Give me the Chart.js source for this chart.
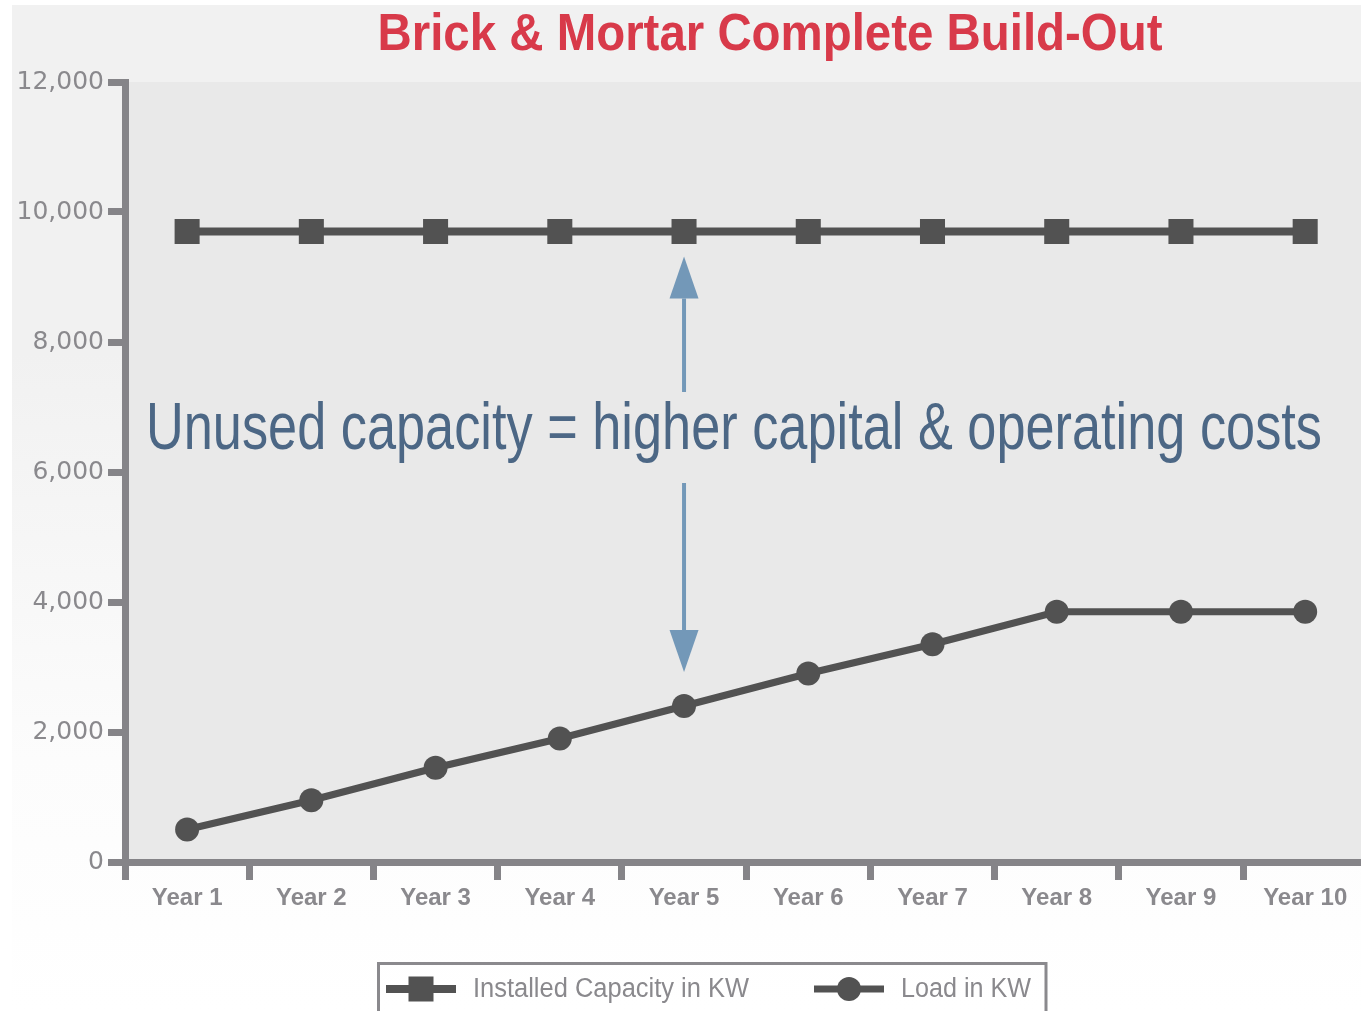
<!DOCTYPE html>
<html>
<head>
<meta charset="utf-8">
<script src="https://cdn.jsdelivr.net/npm/chart.js@4.4.1/dist/chart.umd.min.js"></script>
<style>
  html, body { margin: 0; padding: 0; overflow: hidden; background: #fff; }
  #wrap { position: absolute; left: 0; top: 0; width: 1385px; height: 1011px; }
</style>
</head>
<body>
<div id="wrap"><canvas id="myChart" width="1385" height="1011"></canvas></div>
<script>
var years = ["Year 1", "Year 2", "Year 3", "Year 4", "Year 5", "Year 6", "Year 7", "Year 8", "Year 9", "Year 10"];
var installedCapacity = [9700, 9700, 9700, 9700, 9700, 9700, 9700, 9700, 9700, 9700];
var loadKW = [500, 950, 1450, 1900, 2400, 2900, 3350, 3850, 3850, 3850];
var yMin = 0;
var yMax = 12000;
var yStep = 2000;

var titleText = "Brick & Mortar Complete Build-Out";
var noteText = "Unused capacity = higher capital & operating costs";

var axisGrey = "#858488";
var labelGrey = "#8a898d";
var lineGrey = "#525252";
var arrowBlue = "#7398b8";
var sans = '"Liberation Sans", Arial, sans-serif';

// Hintergrund: weisser Rand, graues Feld mit Verlauf, Plotfläche etwas dunkler
var hintergrund = {
  id: "hintergrund",
  beforeDraw: function (chart) {
    var ctx = chart.ctx;
    var a = chart.chartArea;
    ctx.save();
    ctx.fillStyle = "#ffffff";
    ctx.fillRect(0, 0, chart.width, chart.height);
    var g = ctx.createLinearGradient(0, 0, 0, chart.height);
    g.addColorStop(0, "#f1f1f1");
    g.addColorStop(0.35, "#f1f1f1");
    g.addColorStop(0.75, "#fcfcfc");
    g.addColorStop(1, "#ffffff");
    ctx.fillStyle = g;
    ctx.fillRect(12, 5, chart.width - 12, chart.height - 5);
    ctx.fillStyle = "#e9e9e9";
    ctx.fillRect(a.left, a.top, chart.width - a.left, a.bottom - a.top);
    ctx.restore();
  }
};

// schmale Schrift nachbilden: Text horizontal auf Zielbreite stauchen
function schmalText(ctx, text, x, y, breite) {
  var w = ctx.measureText(text).width;
  ctx.save();
  ctx.translate(x, y);
  ctx.scale(breite / w, 1);
  ctx.fillText(text, 0, 0);
  ctx.restore();
}

function pfeil(ctx, x, yFrom, yTip) {
  var dir = yTip > yFrom ? 1 : -1;
  var headLen = 42;
  var headHalf = 14.5;
  ctx.beginPath();
  ctx.moveTo(x, yFrom);
  ctx.lineTo(x, yTip - dir * headLen);
  ctx.stroke();
  ctx.beginPath();
  ctx.moveTo(x, yTip);
  ctx.lineTo(x - headHalf, yTip - dir * headLen);
  ctx.lineTo(x + headHalf, yTip - dir * headLen);
  ctx.closePath();
  ctx.fill();
}

function symbol(ctx, ds, x, y) {
  ctx.strokeStyle = ds.borderColor;
  ctx.lineWidth = ds.borderWidth;
  ctx.beginPath();
  ctx.moveTo(x, y);
  ctx.lineTo(x + 70, y);
  ctx.stroke();
  ctx.fillStyle = ds.pointBackgroundColor;
  var cx = x + 35;
  if (ds.pointStyle === "rect") {
    ctx.fillRect(cx - 12.5, y - 12.5, 25, 25);
  } else {
    ctx.beginPath();
    ctx.arc(cx, y, 12, 0, Math.PI * 2);
    ctx.fill();
  }
}

// Titel, Hinweistext mit Pfeilen und Legende
var beschriftung = {
  id: "beschriftung",
  afterDraw: function (chart) {
    var ctx = chart.ctx;
    var xs = chart.scales.x;
    var ys = chart.scales.y;
    ctx.save();

    ctx.fillStyle = "#d83a4a";
    ctx.font = "bold 52px " + sans;
    ctx.textAlign = "center";
    ctx.textBaseline = "alphabetic";
    schmalText(ctx, titleText, 770, 50, 785);

    ctx.fillStyle = "#4c6785";
    ctx.font = "66px " + sans;
    schmalText(ctx, noteText, 734, 449, 1176);

    var ax = xs.getPixelForValue(4);
    var yCap = ys.getPixelForValue(installedCapacity[4]);
    var yLoad = ys.getPixelForValue(loadKW[4]);
    ctx.strokeStyle = arrowBlue;
    ctx.fillStyle = arrowBlue;
    ctx.lineWidth = 4;
    pfeil(ctx, ax, 392, yCap + 25);
    pfeil(ctx, ax, 483, yLoad - 34);

    // Legende
    var ds = chart.data.datasets;
    var textBreite = [276, 130];
    ctx.font = "27px " + sans;
    ctx.textAlign = "left";
    ctx.textBaseline = "middle";
    var x = 386;
    var ly = 989;
    for (var i = 0; i < ds.length; i++) {
      symbol(ctx, ds[i], x, ly);
      ctx.fillStyle = labelGrey;
      schmalText(ctx, ds[i].label, x + 87, ly + 1, textBreite[i]);
      x += 87 + textBreite[i] + 65;
    }
    var boxRight = x - 65 + 15;
    ctx.strokeStyle = labelGrey;
    ctx.lineWidth = 3;
    ctx.strokeRect(378.5, 963.5, boxRight - 378.5, 80);
    ctx.restore();
  }
};

new Chart("myChart", {
  type: "line",
  data: {
    labels: years,
    datasets: [
      {
        label: "Installed Capacity in KW",
        data: installedCapacity,
        borderColor: lineGrey,
        backgroundColor: lineGrey,
        pointBackgroundColor: lineGrey,
        borderWidth: 8,
        pointStyle: "rect",
        pointRadius: 17.7,
        pointBorderWidth: 0,
        tension: 0,
      },
      {
        label: "Load in KW",
        data: loadKW,
        borderColor: lineGrey,
        backgroundColor: lineGrey,
        pointBackgroundColor: lineGrey,
        borderWidth: 7,
        pointStyle: "circle",
        pointRadius: 12,
        pointBorderWidth: 0,
        tension: 0,
      },
    ],
  },
  plugins: [hintergrund, beschriftung],
  options: {
    responsive: false,
    animation: false,
    layout: { padding: { top: 82, right: 1, bottom: 0, left: 0 } },
    plugins: {
      legend: { display: false },
      title: { display: false },
      tooltip: { enabled: false },
    },
    scales: {
      x: {
        offset: true,
        afterFit: function (s) {
          s.height = 149;
          s.paddingLeft = 0;
          s.paddingRight = 0;
        },
        grid: {
          offset: true,
          drawOnChartArea: false,
          drawTicks: true,
          tickLength: 18,
          tickWidth: 7,
          tickColor: axisGrey,
        },
        border: { display: true, width: 7, color: axisGrey },
        ticks: {
          color: labelGrey,
          padding: 4,
          font: { family: "Liberation Sans", size: 24, weight: "bold" },
        },
      },
      y: {
        min: yMin,
        max: yMax,
        afterFit: function (s) {
          s.width = 125;
          s.paddingTop = 0;
          s.paddingBottom = 0;
        },
        grid: {
          drawOnChartArea: false,
          drawTicks: true,
          tickLength: 17,
          tickWidth: 7,
          tickColor: axisGrey,
        },
        border: { display: true, width: 7, color: axisGrey },
        ticks: {
          stepSize: yStep,
          color: labelGrey,
          padding: 4,
          font: { family: "DejaVu Sans", size: 25 },
        },
      },
    },
  },
});
</script>
</body>
</html>
